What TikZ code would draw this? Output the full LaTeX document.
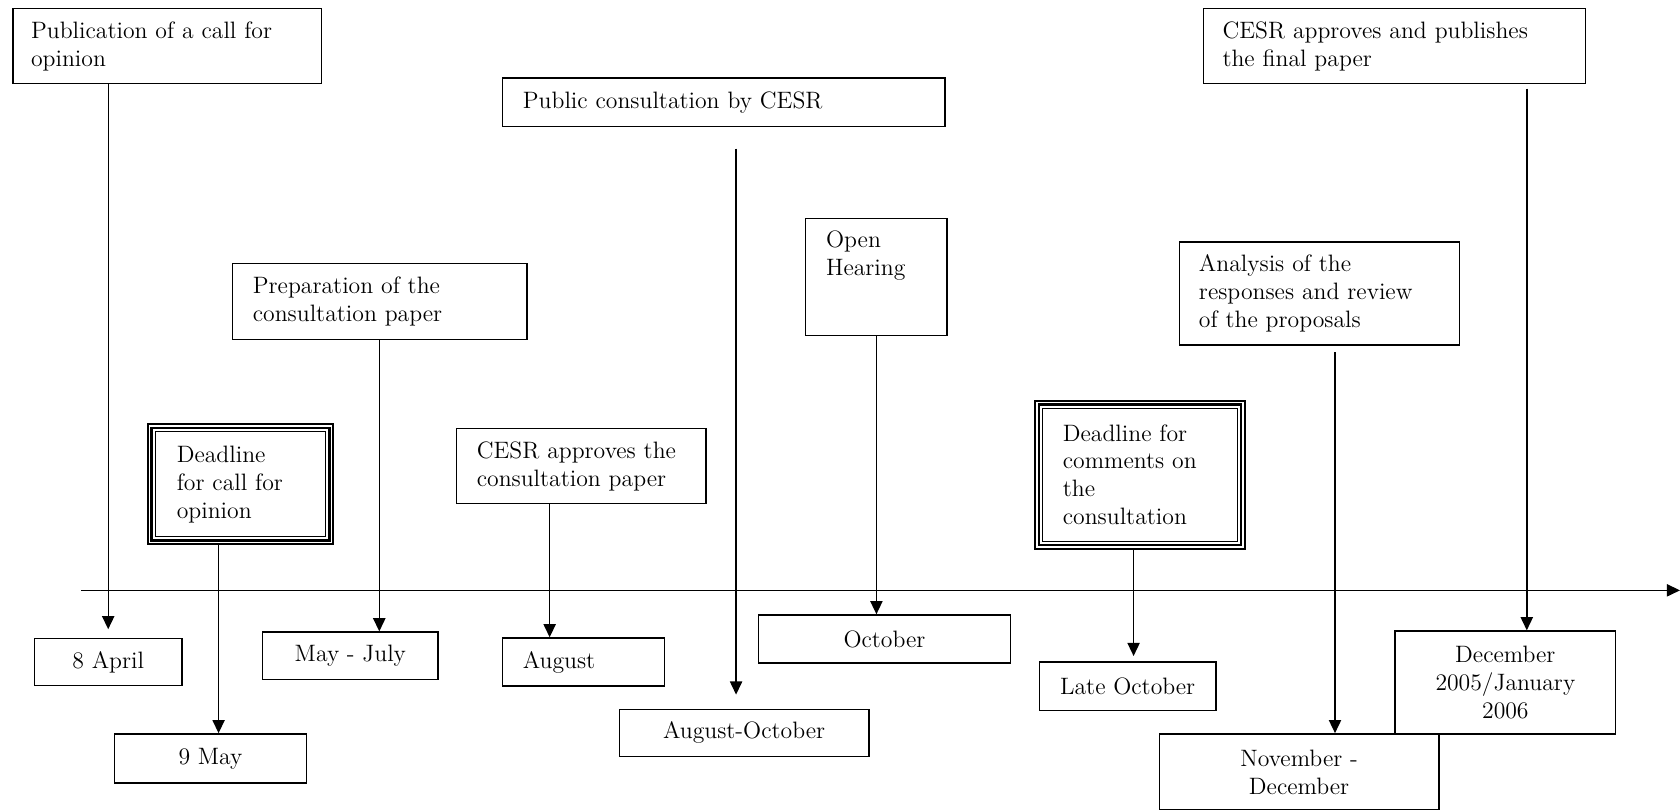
\documentclass[tikz,border=0pt]{standalone}
\usepackage{tikz}
\usetikzlibrary{arrows.meta,calc}

\begin{document}
\begin{tikzpicture}[x=0.02cm, y=-0.02cm,
		evbox/.style={draw, line width=0.8pt, align=left, inner ysep=0pt, font=\fontsize{12.6}{14.8}\selectfont},
		dlbox/.style={evbox, line width=1.1pt},
		datebox/.style={draw, line width=0.8pt, align=center, inner sep=0pt, font=\fontsize{12.6}{14.8}\selectfont},
		tl/.style={-{Triangle[length=7pt,width=6.5pt]}, line width=0.75pt}]
		\useasboundingbox (0,0) rectangle (1568,756);
		\node[evbox, text width=5.08cm, inner xsep=0.34cm, minimum height=1.4cm] (pub) at (156,43) {Publication of a call for\\opinion};
		\node[evbox, text width=4.74cm, inner xsep=0.38cm, minimum height=1.42cm] (prep) at (354.5,281.5) {Preparation of the\\consultation paper};
		\node[evbox, text width=7.5cm, inner xsep=0.38cm, minimum height=0.9cm] (pubcons) at (675.5,95.5) {Public consultation by CESR};
		\node[evbox, text width=1.88cm, inner xsep=0.38cm, text height=15.6pt, text depth=46.4pt] (openh) at (818,258.5) {Open\\Hearing};
		\node[evbox, text width=3.9cm, inner xsep=0.38cm, minimum height=1.4cm] (cesrapp) at (542.5,435) {CESR approves the\\consultation paper};
		\node[dlbox, text width=2.38cm, inner xsep=0.54cm, minimum height=2.24cm] (dlopin) at (224.5,452) {Deadline\\for call for\\opinion};
		\node[dlbox, text width=2.88cm, inner xsep=0.52cm, minimum height=2.76cm] (dlcomm) at (1064,443) {Deadline for\\comments on\\the\\consultation};
		\node[evbox, text width=4.5cm, inner xsep=0.36cm, minimum height=1.92cm] (analysis) at (1231.5,274) {Analysis of the\\responses and review\\of the proposals};
		\node[evbox, text width=6.42cm, inner xsep=0.36cm, minimum height=1.4cm] (final) at (1301.5,43) {CESR approves and publishes\\the final paper};
		\draw[line width=1.2pt] ($(dlopin.south west)+(4.4,-4.4)$) rectangle ($(dlopin.north east)+(-4.4,4.4)$);
		\draw[line width=0.5pt] ($(dlopin.south west)+(7.8,-7.8)$) rectangle ($(dlopin.north east)+(-7.8,7.8)$);
		\draw[line width=1.2pt] ($(dlcomm.south west)+(4.4,-4.4)$) rectangle ($(dlcomm.north east)+(-4.4,4.4)$);
		\draw[line width=0.5pt] ($(dlcomm.south west)+(7.8,-7.8)$) rectangle ($(dlcomm.north east)+(-7.8,7.8)$);
		\node[datebox, minimum width=2.76cm, minimum height=0.88cm] (apr) at (101,618) {8 April};
		\node[datebox, minimum width=3.58cm, minimum height=0.92cm] (may9) at (196.5,708) {9 May};
		\node[datebox, minimum width=3.28cm, minimum height=0.88cm] (mayjul) at (327,612) {May - July};
		\node[evbox, text width=2.26cm, inner xsep=0.38cm, minimum height=0.9cm] (aug) at (544.5,618) {August};
		\node[datebox, minimum width=4.66cm, minimum height=0.88cm] (augoct) at (694.5,684) {August-October};
		\node[datebox, minimum width=4.7cm, minimum height=0.9cm] (oct) at (825.5,596.5) {October};
		\node[datebox, minimum width=3.3cm, minimum height=0.9cm] (lateoct) at (1052.5,640.5) {Late October};
		\node[datebox, minimum width=5.22cm, minimum height=1.42cm] (novdec) at (1212.5,720.5) {November -\\December};
		\node[datebox, minimum width=4.12cm, minimum height=1.92cm] (decjan) at (1405,637) {December\\2005/January\\2006};
		\coordinate (t0) at (76,551);
		\coordinate (t1) at (1568,551);
		\coordinate (k1) at (204,0);
		\coordinate (k2) at (354,0);
		\coordinate (k3) at (513,0);
		\coordinate (k4) at (687,0);
		\coordinate (k5) at (818,0);
		\coordinate (k6) at (1058,0);
		\coordinate (k7) at (1246,0);
		\coordinate (k8) at (1425,0);
		\draw[tl] (t0) -- (t1);
		\draw[tl, shorten >=0.16cm] (pub.south -| apr.north) -- (apr.north);
		\draw[tl] (dlopin.south -| k1) -- (may9.north -| k1);
		\draw[tl] (prep.south -| k2) -- (mayjul.north -| k2);
		\draw[tl] (cesrapp.south -| k3) -- (aug.north -| k3);
		\draw[tl, shorten <=0.4cm, shorten >=0.26cm] (pubcons.south -| k4) -- (augoct.north -| k4);
		\draw[tl] (openh.south -| k5) -- (oct.north -| k5);
		\draw[tl, shorten >=0.1cm] (dlcomm.south -| k6) -- (lateoct.north -| k6);
		\draw[tl, shorten <=0.12cm] (analysis.south -| k7) -- (novdec.north -| k7);
		\draw[tl, shorten <=0.08cm] (final.south -| k8) -- (decjan.north -| k8);
	\end{tikzpicture}
\end{document}
